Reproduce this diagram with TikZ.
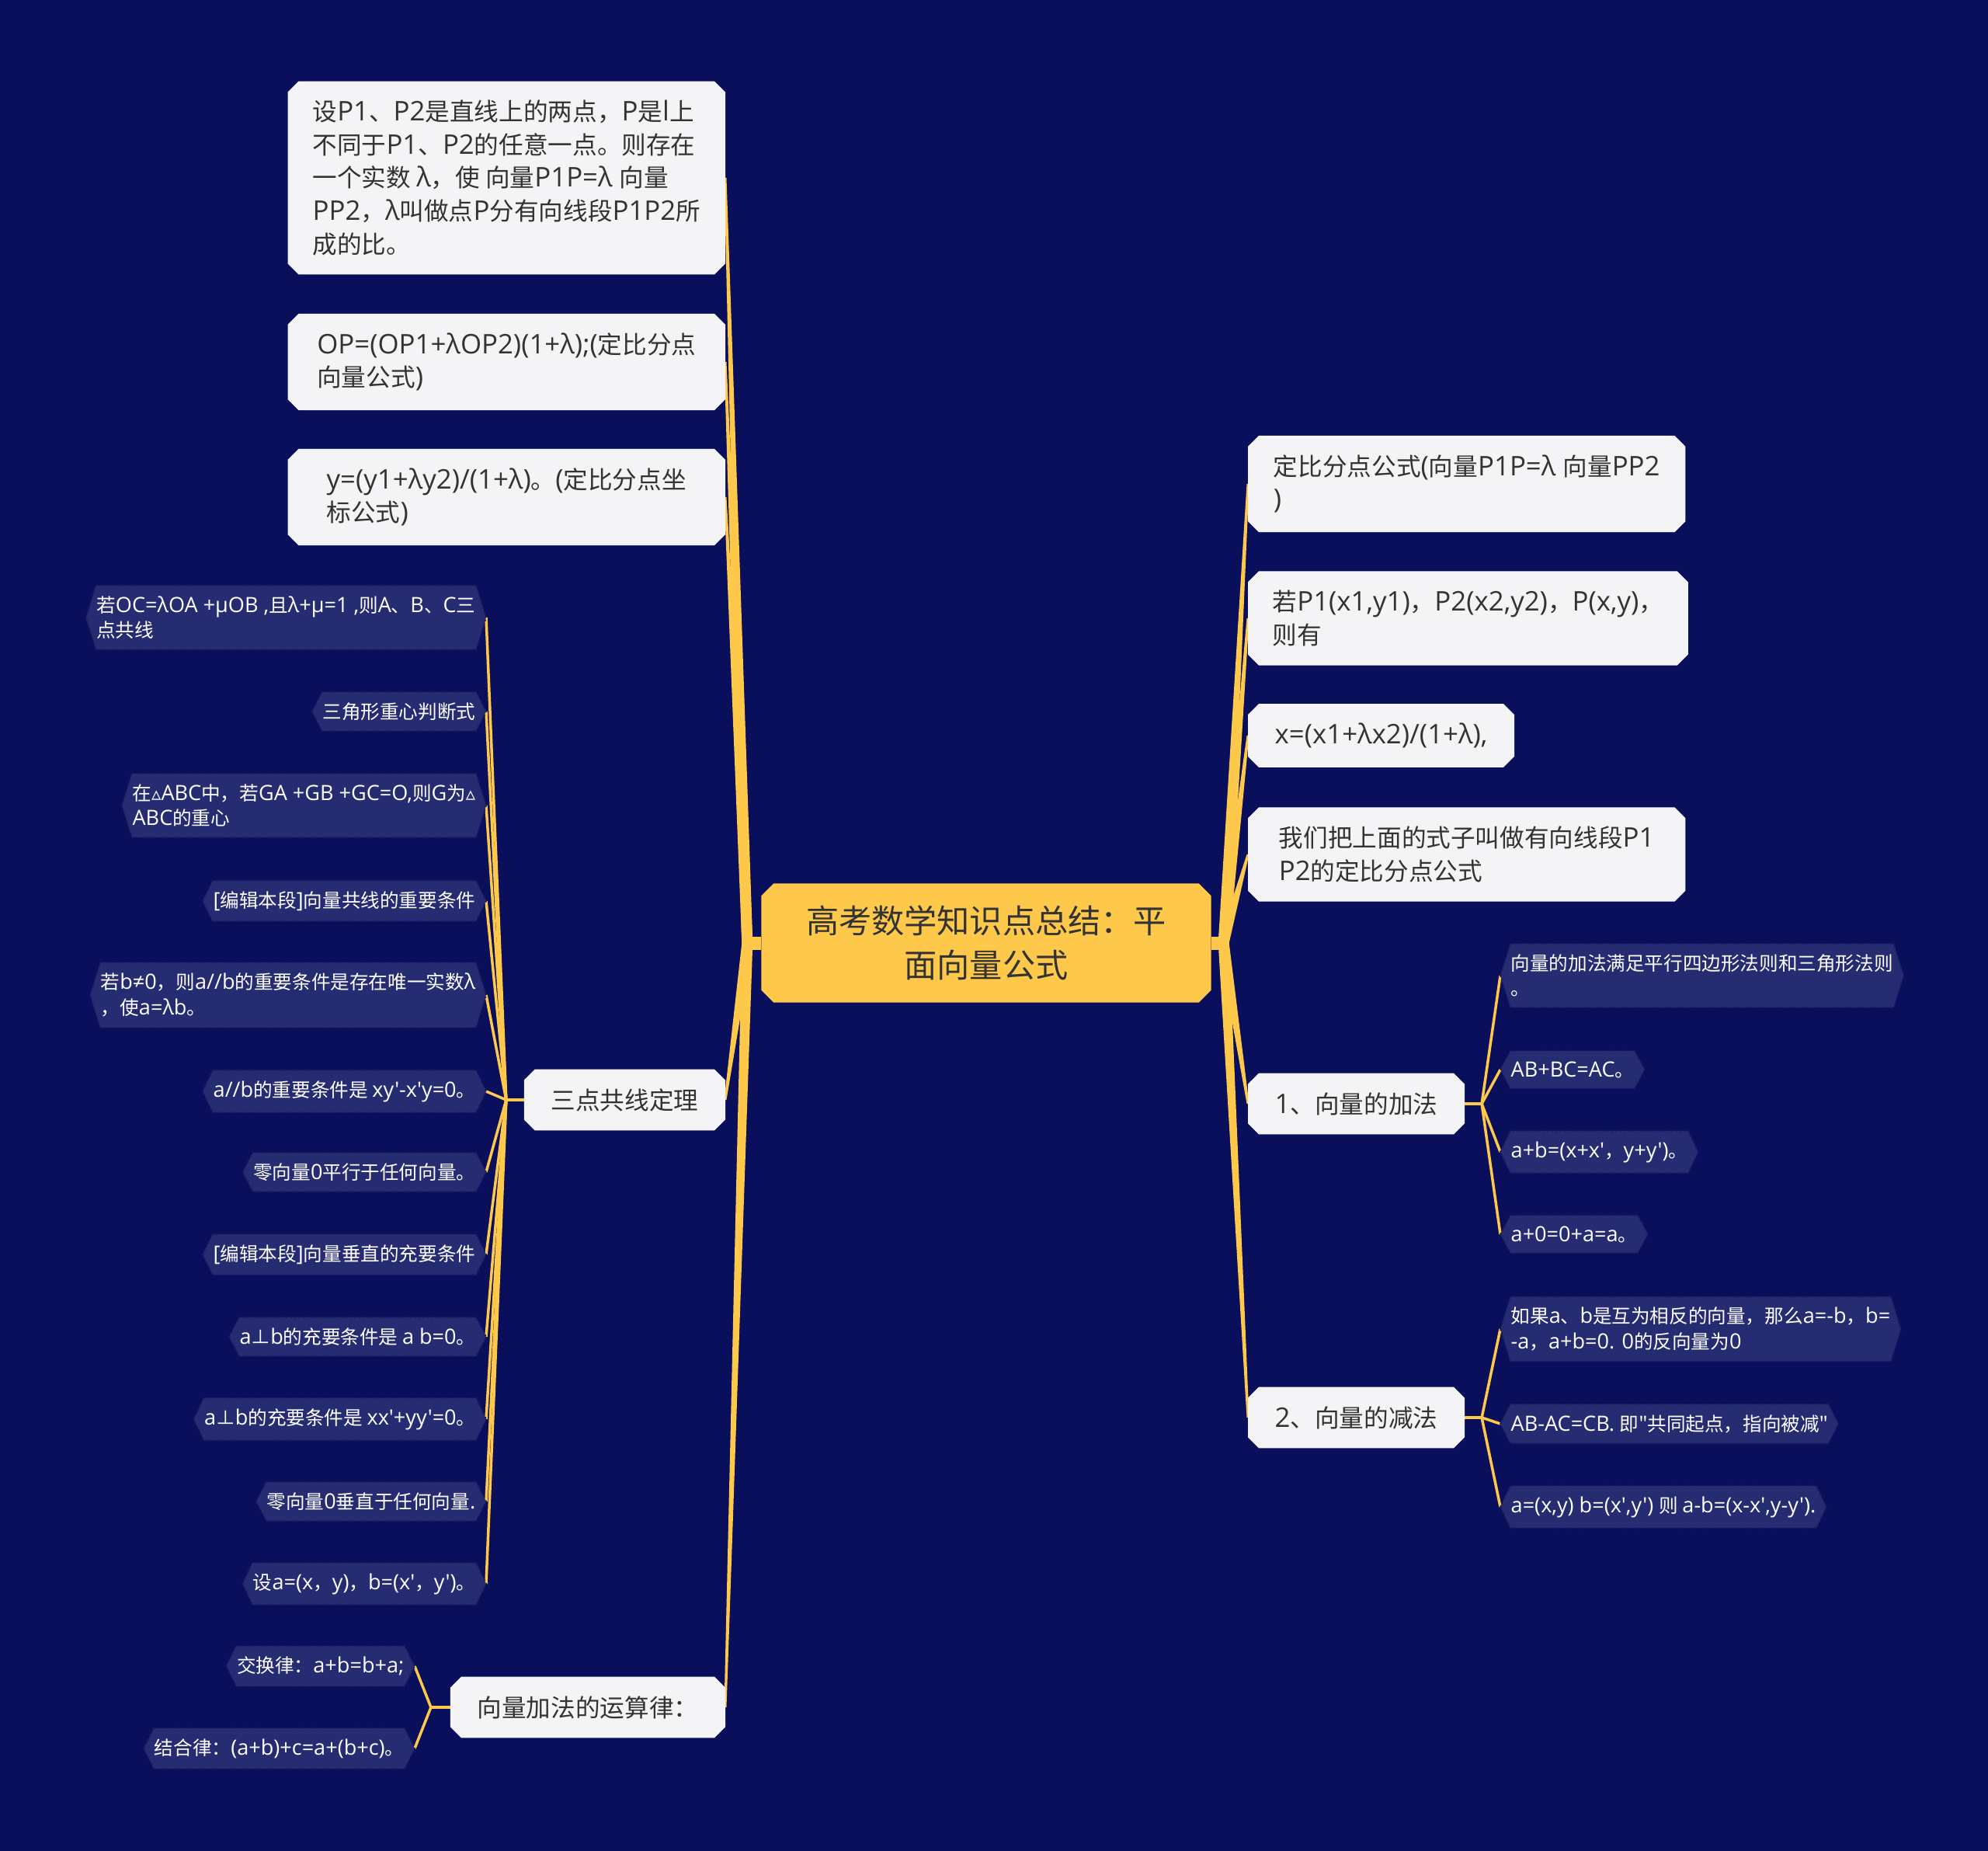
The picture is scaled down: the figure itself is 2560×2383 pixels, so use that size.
\documentclass[tikz,border=0pt]{standalone}
\usepackage{fontspec}
\setmainfont{Open Sans}[Ligatures=TeXOff, Scale=1.1]
\newfontfamily\latfont{Open Sans}[Ligatures=TeXOff, Scale=1.1]
\newfontfamily\hanfont{Noto Sans CJK SC}[Ligatures=TeXOff]
\newfontfamily\trifont{DejaVu Sans}
% Chinese characters are set in the CJK font, the rest in the Latin one
\XeTeXinterchartokenstate=1
\newXeTeXintercharclass\hanclass
\newXeTeXintercharclass\symclass
\makeatletter
\count@="2E80
\loop \XeTeXcharclass\count@=\hanclass \ifnum\count@<"9FFF \advance\count@\@ne \repeat
\count@="FF00
\loop \XeTeXcharclass\count@=\hanclass \ifnum\count@<"FFEF \advance\count@\@ne \repeat
\makeatother
\XeTeXcharclass"22A5=\hanclass
\XeTeXcharclass"25B5=\symclass
\XeTeXinterchartoks 0 \hanclass = {\hanfont}
\XeTeXinterchartoks 4095 \hanclass = {\hanfont}
\XeTeXinterchartoks \symclass \hanclass = {\hanfont}
\XeTeXinterchartoks \hanclass 0 = {\latfont}
\XeTeXinterchartoks 4095 0 = {\latfont}
\XeTeXinterchartoks \symclass 0 = {\latfont}
\usepackage{xcolor}
\usepackage{tikz}
\usetikzlibrary{positioning, calc, backgrounds}
\definecolor{navybg}{HTML}{0A0F5C}
\definecolor{leafnavy}{HTML}{262C72}
\definecolor{leafedge}{HTML}{181D5E}
\definecolor{paper}{HTML}{F4F4F6}
\definecolor{mustard}{HTML}{FEC84B}
\definecolor{inkgray}{HTML}{333333}

% hexagon behind a leaf node
\newcommand\leafshape[1]{%
  \filldraw[fill=leafnavy, draw=leafedge, densely dotted, line width=0.2mm]
    (#1.west) -- ($(#1.north west)+(13,0)$) -- ($(#1.north east)+(-13,0)$)
    -- (#1.east) -- ($(#1.south east)+(-13,0)$) -- ($(#1.south west)+(13,0)$) -- cycle;}
% box with cut corners behind a node
\newcommand\cutbox[3]{%
  \fill[#2] ($(#1.north west)+(#3,0)$) -- ($(#1.north east)+(-#3,0)$)
    -- ($(#1.north east)+(0,#3)$) -- ($(#1.south east)+(0,-#3)$)
    -- ($(#1.south east)+(-#3,0)$) -- ($(#1.south west)+(#3,0)$)
    -- ($(#1.south west)+(0,-#3)$) -- ($(#1.north west)+(0,#3)$) -- cycle;}
% tapered branch from the centre
\newcommand\taper[3]{%
  \fill[mustard] ($(#1)+(-#3,0)$) -- ($(#2)+(-1.5,0)$)
    -- ($(#2)+(1.5,0)$) -- ($(#1)+(#3,0)$) -- cycle;}

\begin{document}
\begin{tikzpicture}[x=0.1mm, y=-0.1mm,
    hub/.style={font=\fontsize{12}{16.2}\selectfont, text=inkgray, align=center,
      minimum width=57.8mm, minimum height=15.2mm},
    topic/.style={font=\fontsize{9}{12.1}\selectfont, text=inkgray, align=left,
      inner xsep=3.4mm, inner ysep=2.4mm},
    wide/.style={topic, inner xsep=3.1mm, minimum width=56.2mm},
    leaf/.style={font=\fontsize{7}{9.3}\selectfont, text=white, align=left,
      inner xsep=1.3mm, inner ysep=1.3mm},
    twig/.style={draw=mustard, line width=0.35mm}]
  \useasboundingbox (0,0) rectangle (2560,2383);

  % centre
  \node[hub] (root) at (1270,1214) {高考数学知识点总结：平\\面向量公式};
  \coordinate (lstem) at ($(root.west)+(-18,0)$);
  \coordinate (rstem) at ($(root.east)+(16,0)$);

  % left side
  \node[wide, anchor=east] (pa) at (934,229) {设P1、P2是直线上的两点，P是l上\\不同于P1、P2的任意一点。则存在\\一个实数 λ，使 向量P1P=λ 向量\\PP2，λ叫做点P分有向线段P1P2所\\成的比。};
  \node[wide, anchor=east] (pb) at (934,466) {OP=(OP1+λOP2)(1+λ);(定比分点\\向量公式)};
  \node[wide, anchor=east] (pc) at (934,640) {y=(y1+λy2)/(1+λ)。(定比分点坐\\标公式)};
  \node[topic, anchor=east] (sd) at (934,1416) {三点共线定理};
  \node[topic, anchor=east] (yl) at (934,2198) {向量加法的运算律：};
  \coordinate (sdfork) at ($(sd.west)+(-23,0)$);
  \coordinate (ylfork) at ($(yl.west)+(-25,0)$);

  \node[leaf, anchor=east] (s1) at (626,795) {若OC=λOA +μOB ,且λ+μ=1 ,则A、B、C三\\点共线};
  \node[leaf, anchor=east] (s2) at (626,916) {三角形重心判断式};
  \node[leaf, anchor=east] (s3) at (626,1037) {在{\trifont ▵}ABC中，若GA +GB +GC=O,则G为{\trifont ▵}\\ABC的重心};
  \node[leaf, anchor=east] (s4) at (626,1160) {[编辑本段]向量共线的重要条件};
  \node[leaf, anchor=east] (s5) at (626,1281) {若b≠0，则a//b的重要条件是存在唯一实数λ\\，使a=λb。};
  \node[leaf, anchor=east] (s6) at (626,1405) {a//b的重要条件是 xy'-x'y=0。};
  \node[leaf, anchor=east] (s7) at (626,1509) {零向量0平行于任何向量。};
  \node[leaf, anchor=east] (s8) at (626,1615) {[编辑本段]向量垂直的充要条件};
  \node[leaf, anchor=east] (s9) at (626,1721) {a⊥b的充要条件是 a b=0。};
  \node[leaf, anchor=east] (s10) at (626,1827) {a⊥b的充要条件是 xx'+yy'=0。};
  \node[leaf, anchor=east] (s11) at (626,1933) {零向量0垂直于任何向量.};
  \node[leaf, anchor=east] (s12) at (626,2039) {设a=(x，y)，b=(x'，y')。};

  \node[leaf, anchor=east] (y1) at (534,2145) {交换律：a+b=b+a;};
  \node[leaf, anchor=east] (y2) at (534,2251) {结合律：(a+b)+c=a+(b+c)。};

  % right side
  \node[wide, anchor=west] (ra) at (1607,623) {定比分点公式(向量P1P=λ 向量PP2\\)};
  \node[wide, anchor=west] (rb) at (1607,796) {若P1(x1,y1)，P2(x2,y2)，P(x,y)，\\则有};
  \node[topic, anchor=west] (rc) at (1607,947) {x=(x1+λx2)/(1+λ),};
  \node[wide, anchor=west] (rd) at (1607,1100) {我们把上面的式子叫做有向线段P1\\P2的定比分点公式};
  \node[topic, anchor=west] (jia) at (1607,1421) {1、向量的加法};
  \node[topic, anchor=west] (jian) at (1607,1825) {2、向量的减法};
  \coordinate (jiafork) at ($(jia.east)+(22,0)$);
  \coordinate (jianfork) at ($(jian.east)+(22,0)$);

  \node[leaf, anchor=west] (j1) at (1932,1256) {向量的加法满足平行四边形法则和三角形法则\\。};
  \node[leaf, anchor=west] (j2) at (1932,1377) {AB+BC=AC。};
  \node[leaf, anchor=west] (j3) at (1932,1483) {a+b=(x+x'，y+y')。};
  \node[leaf, anchor=west] (j4) at (1932,1589) {a+0=0+a=a。};

  \node[leaf, anchor=west] (k1) at (1932,1711) {如果a、b是互为相反的向量，那么a=-b，b=\\-a，a+b=0. 0的反向量为0};
  \node[leaf, anchor=west] (k2) at (1932,1833) {AB-AC=CB. 即"共同起点，指向被减"};
  \node[leaf, anchor=west] (k3) at (1932,1940) {a=(x,y) b=(x',y') 则 a-b=(x-x',y-y').};

  \begin{scope}[on background layer]
    \fill[navybg] (0,0) rectangle (2560,2383);
    % branches
    \draw[mustard, line width=1.7mm] (root.west) -- (lstem);
    \draw[mustard, line width=1.7mm] (root.east) -- (rstem);
    \foreach \n in {pa,pb,pc,sd,yl} {\taper{lstem}{\n.east}{7}}
    \foreach \n in {ra,rb,rc,rd,jia,jian} {\taper{rstem}{\n.west}{7}}
    \draw[twig] (sd.west) -- (sdfork);
    \foreach \n in {s1,s2,s3,s4,s5,s6,s7,s8,s9,s10,s11,s12} {\draw[twig] (sdfork) -- (\n.east);}
    \draw[twig] (yl.west) -- (ylfork);
    \foreach \n in {y1,y2} {\draw[twig] (ylfork) -- (\n.east);}
    \draw[twig] (jia.east) -- (jiafork);
    \foreach \n in {j1,j2,j3,j4} {\draw[twig] (jiafork) -- (\n.west);}
    \draw[twig] (jian.east) -- (jianfork);
    \foreach \n in {k1,k2,k3} {\draw[twig] (jianfork) -- (\n.west);}
    % boxes
    \cutbox{root}{mustard}{16}
    \foreach \n in {pa,pb,pc,sd,yl,ra,rb,rc,rd,jia,jian} {\cutbox{\n}{paper}{14}}
    \foreach \n in {s1,s2,s3,s4,s5,s6,s7,s8,s9,s10,s11,s12,y1,y2,j1,j2,j3,j4,k1,k2,k3} {\leafshape{\n}}
  \end{scope}
\end{tikzpicture}
\end{document}
